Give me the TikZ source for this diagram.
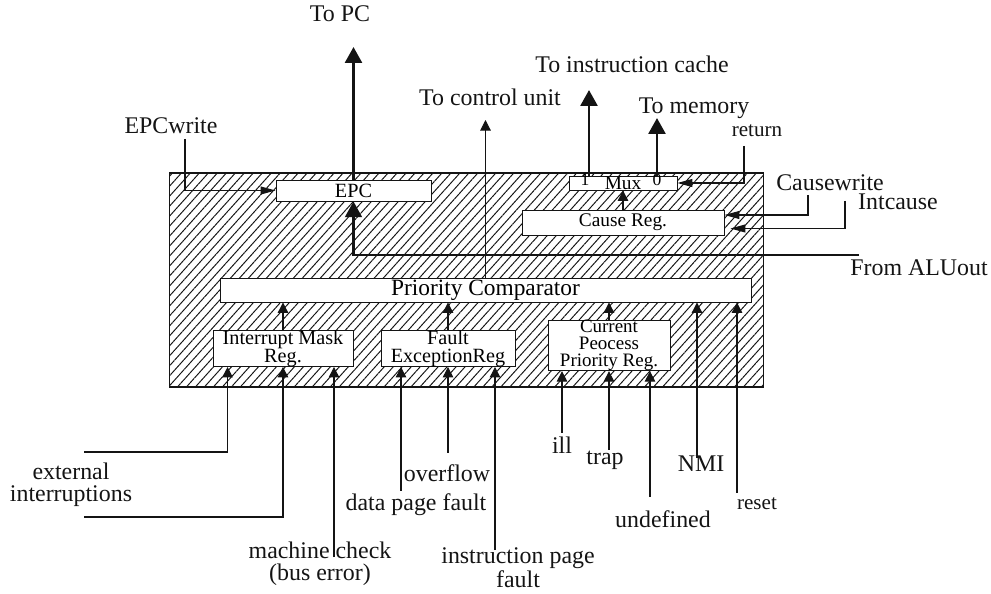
\documentclass[tikz,border=0pt]{standalone}
\usepackage{fontspec}
\setmainfont{Liberation Serif}
\usetikzlibrary{arrows.meta,positioning,calc,patterns.meta}
\definecolor{ink}{RGB}{20,20,20}
\tikzset{
  >={Triangle[length=6pt,width=6pt]},
  reg/.style={draw=ink,line width=0.5pt,fill=white,inner sep=0pt,align=center,
    font=\fontsize{11.5}{10}\selectfont},
  lbl/.style={font=\fontsize{13.6}{12.5}\selectfont,text=ink,align=center,inner sep=1pt},
  small lbl/.style={lbl,font=\fontsize{12}{12}\selectfont},
  sig/.style={->,draw=ink,line width=0.6pt},
  ctl/.style={-{Triangle[length=8.5pt,width=4.5pt]},draw=ink,line width=0.6pt},
  bus/.style={-{Triangle[length=9pt,width=9.5pt]},draw=ink,line width=1.7pt},
  hatch/.style={draw=ink,line width=0.6pt,
    pattern={Lines[angle=48,distance=3.8pt,line width=0.55pt]},pattern color=ink},
}
\begin{document}
\begin{tikzpicture}[x=0.02cm,y=-0.02cm]
  \useasboundingbox (0,0) rectangle (991,594);
  \node[hatch,minimum width=11.9cm,minimum height=4.28cm] (cpu) at (466.5,280) {};
  % registers inside the unit
  \node[reg,minimum width=3.1cm,minimum height=0.42cm] (epc) at (353.5,190.5) {EPC};
  \node[reg,minimum width=2.16cm,minimum height=0.28cm,font=\fontsize{11}{11}\selectfont] (mux) at (623,183) {Mux};
  \node[inner sep=0pt,font=\fontsize{10}{10}\selectfont] (mone) at (585,180) {1};
  \node[inner sep=0pt,font=\fontsize{10}{10}\selectfont] (mzero) at (657,180) {0};
  \node[reg,minimum width=4.04cm,minimum height=0.5cm,font=\fontsize{11}{11}\selectfont] (cause) at (623,222.5) {Cause Reg.};
  \node[reg,minimum width=10.62cm,minimum height=0.48cm,font=\fontsize{13.3}{14}\selectfont] (cmp) at (485.5,290) {Priority Comparator};
  \node[reg,minimum width=2.8cm,minimum height=0.7cm] (im) at (283,348.5) {Interrupt Mask\\Reg.};
  \node[reg,minimum width=2.68cm,minimum height=0.7cm] (fault) at (448,348.5) {Fault\\ExceptionReg};
  \node[reg,minimum width=2.44cm,minimum height=0.7cm,font=\fontsize{10.8}{9.6}\selectfont] (cur) at (609,345.5) {Current\\Peocess\\Priority Reg.};
  % labels
  \node[lbl] (topc) at (340,14) {To PC};
  \node[lbl] (epcw) at (171,126) {EPCwrite};
  \node[lbl] (ctrl) at (490,97) {To control unit};
  \node[lbl] (icache) at (632,64) {To instruction cache};
  \node[lbl] (tomem) at (694,108) {To memory};
  \node[small lbl] (ret) at (757,131) {return};
  \node[lbl] (cw) at (830,183) {Causewrite};
  \node[lbl] (ic) at (898,202) {Intcause};
  \node[lbl] (alu) at (919,268) {From ALUout};
  \node[lbl] (ext) at (71,485) {external\\interruptions};
  \node[lbl] (mc) at (320,564) {machine check\\(bus error)};
  \node[lbl] (ovf) at (447,473) {overflow};
  \node[lbl] (dpf) at (416,505) {data page fault};
  \node[lbl,inner sep=0pt] (ipf) at (518,568) {instruction page\\fault};
  \node[lbl] (ill) at (562,445) {ill};
  \node[lbl] (trap) at (605,460) {trap};
  \node[lbl] (undef) at (663,519) {undefined};
  \node[lbl] (nmi) at (701,464) {NMI};
  \node[small lbl] (rst) at (757,504) {reset};
  % free ends
  \coordinate (pctip) at (353.5,47);
  \coordinate (cutip) at (485.5,120);
  \coordinate (ictip) at (589,90);
  \coordinate (memtip) at (657,118);
  \coordinate (epcwin) at (185,139);
  \coordinate (retin) at (744,146);
  \coordinate (cwin) at (808,195);
  \coordinate (icin) at (845,201);
  \coordinate (aluin) at (859,255);
  \coordinate (ext1) at (84,452);
  \coordinate (ext2) at (84,517);
  \coordinate (mcin) at (334,557);
  \coordinate (dpfin) at (401,491);
  \coordinate (ovfin) at (448,453);
  \coordinate (ipfin) at (495,550);
  \coordinate (illin) at (562,433);
  \coordinate (trapin) at (609,450);
  \coordinate (undin) at (650,497);
  \coordinate (nmiin) at (697,458);
  \coordinate (rstin) at (737,493);
  % connectors
  \draw[bus] (epc.north) -- (pctip);
  \draw[bus] (aluin) -| (epc.south);
  \draw[bus] (ictip |- mux.north) -- (ictip);
  \draw[bus] (memtip |- mux.north) -- (memtip);
  \draw[ctl] (epcwin) |- (epc.west);
  \draw[ctl] (retin) |- (mux.east);
  \draw[ctl] (cwin) |- ([yshift=0.15cm]cause.east);
  \draw[ctl] (icin) |- ([shift={(0.12cm,-0.12cm)}]cause.east);
  \draw[sig] (cause.north) -- (mux.south);
  \draw[sig] (cmp.north) -- (cutip);
  \draw[sig] (im.north) -- (im.north |- cmp.south);
  \draw[sig] (fault.north) -- (fault.north |- cmp.south);
  \draw[sig] (cur.north) -- (cur.north |- cmp.south);
  \draw[sig] (nmiin) -- (nmiin |- cmp.south);
  \draw[sig] (rstin) -- (rstin |- cmp.south);
  \draw[sig] (ext1) -| ([xshift=0.3cm]im.south west);
  \draw[sig] (ext2) -| (im.south);
  \draw[sig] (mcin) -- (mcin |- im.south);
  \draw[sig] (dpfin) -- (dpfin |- fault.south);
  \draw[sig] (ovfin) -- (ovfin |- fault.south);
  \draw[sig] (ipfin) -- (ipfin |- fault.south);
  \draw[sig] (illin) -- (illin |- cur.south);
  \draw[sig] (trapin) -- (trapin |- cur.south);
  \draw[sig] (undin) -- (undin |- cur.south);
\end{tikzpicture}
\end{document}
